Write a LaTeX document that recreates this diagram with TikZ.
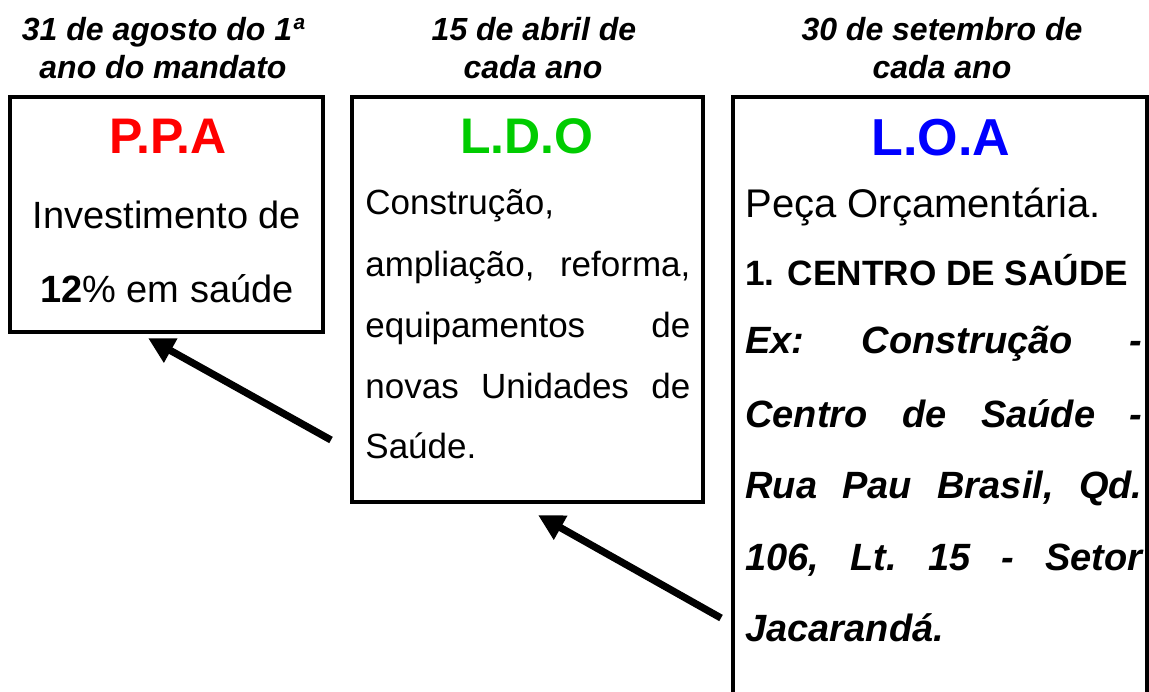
\documentclass[tikz,border=0pt]{standalone}
\usepackage{fontspec}
\setmainfont{Liberation Sans}
\usetikzlibrary{arrows.meta}
\definecolor{ppared}{RGB}{255,0,0}
\definecolor{ldogreen}{RGB}{0,204,0}
\definecolor{loablue}{RGB}{0,0,255}
\newcommand{\spread}[2]{\hbox to #1{#2}}

\begin{document}
\begin{tikzpicture}[x=0.5pt,y=-0.5pt,
	box/.style={draw, line width=1.6pt, inner sep=0, outer sep=0, anchor=north west},
	lbl/.style={anchor=base, inner sep=0, font=\fontsize{16}{19}\selectfont\bfseries\itshape},
	ttl/.style={anchor=base, inner sep=0},
	txt/.style={anchor=base west, inner sep=0},
	push/.style={line width=3.6pt, -{Triangle[length=13pt,width=13pt]}}]
		\useasboundingbox (0,0) rectangle (1149,691);
		% boxes
		\node[box, minimum width=156.5pt, minimum height=117.5pt] (ppa) at (10,97) {};
		\node[box, minimum width=175.5pt, minimum height=202.5pt] (ldo) at (352,97) {};
		\node[box, minimum width=207pt, minimum height=320pt] (loa) at (733,97) {};
		% dates
		\node[lbl] (ppaD1) at (163,40) {31 de agosto do 1ª};
		\node[lbl] (ppaD2) at (163,78) {ano do mandato};
		\node[lbl] (ldoD1) at (534,40) {15 de abril de};
		\node[lbl] (ldoD2) at (533,78) {cada ano};
		\node[lbl] (loaD1) at (942,40) {30 de setembro de};
		\node[lbl] (loaD2) at (942,78) {cada ano};
		% titles
		\node[ttl, text=ppared, font=\fontsize{25}{30}\selectfont\bfseries] (ppaT) at (168,153) {P.P.A};
		\node[ttl, text=ldogreen, font=\fontsize{25}{30}\selectfont\bfseries] (ldoT) at (527,153) {L.D.O};
		\node[ttl, text=loablue, font=\fontsize{26}{30}\selectfont\bfseries] (loaT) at (941,155) {L.O.A};
		% P.P.A
		\node[ttl, font=\fontsize{19}{22}\selectfont] (ppa1) at (167,228) {Investimento de};
		\node[ttl, font=\fontsize{19}{22}\selectfont] (ppa2) at (167,302) {\textbf{12}\% em saúde};
		% L.D.O
		\begin{scope}[font=\fontsize{17.5}{21}\selectfont]
		\node[txt] (ldo1) at (365,214) {Construção,};
		\node[txt] (ldo2) at (365,276) {\spread{162.5pt}{ampliação,\hfill reforma,}};
		\node[txt] (ldo3) at (365,337) {\spread{162.5pt}{equipamentos\hfill de}};
		\node[txt] (ldo4) at (365,398) {\spread{162.5pt}{novas\hfill Unidades\hfill de}};
		\node[txt] (ldo5) at (365,458) {Saúde.};
		\end{scope}
		% L.O.A
		\node[txt, font=\fontsize{20}{24}\selectfont] (loa1) at (745,217) {Peça Orçamentária.};
		\node[txt, font=\fontsize{17.6}{22}\selectfont\bfseries] (loa2) at (745,285) {1. CENTRO DE SAÚDE};
		\begin{scope}[font=\fontsize{19}{23}\selectfont\bfseries\itshape]
		\node[txt] (loa3) at (745,353) {\spread{198.5pt}{Ex:\hfill Construção\hfill -}};
		\node[txt] (loa4) at (745,427) {\spread{198.5pt}{Centro\hfill de\hfill Saúde\hfill -}};
		\node[txt] (loa5) at (745,498) {\spread{198.5pt}{Rua\hfill Pau\hfill Brasil,\hfill Qd.}};
		\node[txt] (loa6) at (745,570) {\spread{198.5pt}{106,\hfill Lt.\hfill 15\hfill -\hfill Setor}};
		\node[txt] (loa7) at (745,641) {Jacarandá.};
		\end{scope}
		% arrows
		\coordinate (ppaIn) at ([shift={(138,6)}]ppa.south west);
		\coordinate (ldoOut) at ([shift={(-21,-62)}]ldo.south west);
		\coordinate (ldoIn) at ([shift={(186,13)}]ldo.south west);
		\coordinate (loaOut) at ([shift={(-12,521)}]loa.north west);
		\draw[push] (ldoOut) -- (ppaIn);
		\draw[push] (loaOut) -- (ldoIn);
\end{tikzpicture}
\end{document}
